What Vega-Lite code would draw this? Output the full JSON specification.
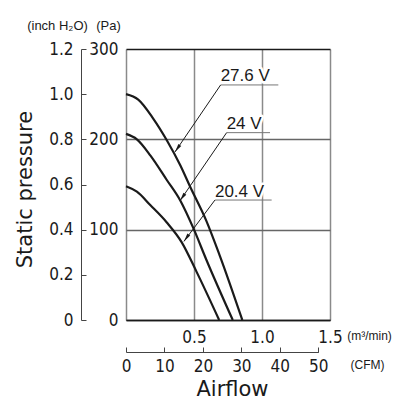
{
  "$schema": "https://vega.github.io/schema/vega-lite/v6.json",
  "width": 204,
  "height": 271,
  "autosize": {"type": "none"},
  "padding": {"left": 126, "top": 49, "right": 87, "bottom": 92},
  "background": "white",
  "config": {
    "view": {"stroke": null},
    "axis": {
      "labelFont": "Liberation Sans Narrow, DejaVu Sans Condensed, sans-serif",
      "labelFontSize": 17,
      "labelColor": "#1a1a1a",
      "labelFlush": false,
      "labelOverlap": false,
      "titleFont": "Liberation Sans, Arial, sans-serif",
      "titleFontWeight": "normal",
      "titleColor": "#1a1a1a"
    }
  },
  "datasets": {
    "curves": [
      {"voltage": "27.6 V", "airflow": 0, "pressure": 250},
      {"voltage": "27.6 V", "airflow": 0.09, "pressure": 244},
      {"voltage": "27.6 V", "airflow": 0.2, "pressure": 223},
      {"voltage": "27.6 V", "airflow": 0.3, "pressure": 199},
      {"voltage": "27.6 V", "airflow": 0.4, "pressure": 171},
      {"voltage": "27.6 V", "airflow": 0.47, "pressure": 148},
      {"voltage": "27.6 V", "airflow": 0.59, "pressure": 110},
      {"voltage": "27.6 V", "airflow": 0.69, "pressure": 71},
      {"voltage": "27.6 V", "airflow": 0.855, "pressure": 0},
      {"voltage": "24 V", "airflow": 0, "pressure": 206},
      {"voltage": "24 V", "airflow": 0.08, "pressure": 200},
      {"voltage": "24 V", "airflow": 0.18, "pressure": 182},
      {"voltage": "24 V", "airflow": 0.3, "pressure": 155},
      {"voltage": "24 V", "airflow": 0.4, "pressure": 132},
      {"voltage": "24 V", "airflow": 0.5, "pressure": 100},
      {"voltage": "24 V", "airflow": 0.59, "pressure": 67},
      {"voltage": "24 V", "airflow": 0.785, "pressure": 0},
      {"voltage": "20.4 V", "airflow": 0, "pressure": 148},
      {"voltage": "20.4 V", "airflow": 0.08, "pressure": 142},
      {"voltage": "20.4 V", "airflow": 0.18, "pressure": 127},
      {"voltage": "20.4 V", "airflow": 0.3, "pressure": 108},
      {"voltage": "20.4 V", "airflow": 0.41, "pressure": 86},
      {"voltage": "20.4 V", "airflow": 0.52, "pressure": 53},
      {"voltage": "20.4 V", "airflow": 0.685, "pressure": 0}
    ],
    "labels": [
      {"label": "27.6 V", "lx": 0.696, "ly": 260.2, "lx2": 1.12, "tipx": 0.36, "tipy": 186},
      {"label": "24 V", "lx": 0.74, "ly": 207.4, "lx2": 1.059, "tipx": 0.397, "tipy": 132},
      {"label": "20.4 V", "lx": 0.654, "ly": 132.8, "lx2": 1.071, "tipx": 0.426, "tipy": 87}
    ],
    "frame": [
      {"cfm": 0, "inch": 0, "airflow": 0, "pressure": 0},
      {"cfm": 50, "inch": 1.2, "airflow": 1.5, "pressure": 300}
    ]
  },
  "layer": [
    {
      "data": {"name": "frame"},
      "mark": {"type": "point", "opacity": 0},
      "encoding": {
        "x": {
          "field": "airflow", "type": "quantitative",
          "scale": {"domain": [0, 1.5], "nice": false, "zero": false},
          "axis": {
            "orient": "bottom", "offset": 0,
            "values": [0, 0.5, 1, 1.5],
            "labelExpr": "datum.value == 0 ? '' : format(datum.value, '.1f')",
            "domain": true, "domainColor": "#1a1a1a", "domainWidth": 1.5,
            "ticks": false, "labelPadding": 9,
            "grid": true, "gridColor": "#8a8a8a", "gridWidth": 1.5, "gridOpacity": 1,
            "title": "(m³/min)", "titleFontSize": 12, "titleAngle": 0,
            "titleX": 243, "titleY": 15, "titleAlign": "center", "titleBaseline": "middle"
          }
        },
        "y": {
          "field": "pressure", "type": "quantitative",
          "scale": {"domain": [0, 300], "nice": false, "zero": false},
          "axis": {
            "orient": "left", "offset": 0,
            "values": [0, 100, 200, 300],
            "domain": false, "ticks": false, "labelPadding": 8,
            "grid": true,
            "gridColor": {"condition": {"test": "datum.value == 300 || datum.value == 0", "value": "#1a1a1a"}, "value": "#666666"},
            "gridWidth": 1.5, "gridOpacity": 1,
            "title": "(Pa)", "titleFontSize": 13, "titleAngle": 0,
            "titleX": -18, "titleY": -24, "titleAlign": "center", "titleBaseline": "middle"
          }
        }
      }
    },
    {
      "layer": [
        {
          "data": {"name": "curves"},
          "mark": {"type": "line", "interpolate": "monotone", "color": "#1a1a1a", "strokeWidth": 2.2},
          "encoding": {
            "x": {"field": "airflow", "type": "quantitative", "scale": {"domain": [0, 1.5], "nice": false, "zero": false}, "axis": null},
            "y": {"field": "pressure", "type": "quantitative", "scale": {"domain": [0, 300], "nice": false, "zero": false}, "axis": null},
            "detail": {"field": "voltage"}
          }
        },
        {
          "data": {"name": "labels"},
          "mark": {"type": "text", "align": "left", "baseline": "alphabetic", "dy": -3.5, "fontSize": 17,
                   "font": "Liberation Sans, Arial, sans-serif", "stroke": "white", "strokeWidth": 5, "strokeJoin": "round", "fill": "white"},
          "encoding": {
            "x": {"field": "lx", "type": "quantitative", "axis": null},
            "y": {"field": "ly", "type": "quantitative", "axis": null},
            "text": {"field": "label"}
          }
        },
        {
          "data": {"name": "labels"},
          "mark": {"type": "rule", "color": "#777777", "strokeWidth": 1},
          "encoding": {
            "x": {"field": "lx", "type": "quantitative", "axis": null},
            "x2": {"field": "lx2"},
            "y": {"field": "ly", "type": "quantitative", "axis": null}
          }
        },
        {
          "data": {"name": "labels"},
          "mark": {"type": "text", "align": "left", "baseline": "alphabetic", "dy": -3.5, "fontSize": 17,
                   "font": "Liberation Sans, Arial, sans-serif", "fill": "#1a1a1a"},
          "encoding": {
            "x": {"field": "lx", "type": "quantitative", "axis": null},
            "y": {"field": "ly", "type": "quantitative", "axis": null},
            "text": {"field": "label"}
          }
        },
        {
          "data": {"name": "labels"},
          "mark": {"type": "rule", "color": "#1a1a1a", "strokeWidth": 1},
          "encoding": {
            "x": {"field": "lx", "type": "quantitative", "axis": null},
            "y": {"field": "ly", "type": "quantitative", "axis": null},
            "x2": {"field": "tipx"},
            "y2": {"field": "tipy"}
          }
        },
        {
          "data": {"name": "labels"},
          "mark": {"type": "point", "shape": "M0,0L-0.35,1.7L0.35,1.7Z", "angle": 215, "size": 100,
                   "filled": true, "color": "#1a1a1a", "opacity": 1},
          "encoding": {
            "x": {"field": "tipx", "type": "quantitative", "axis": null},
            "y": {"field": "tipy", "type": "quantitative", "axis": null}
          }
        }
      ]
    },
    {
      "data": {"name": "frame"},
      "mark": {"type": "point", "opacity": 0},
      "encoding": {
        "x": {
          "field": "cfm", "type": "quantitative",
          "scale": {"domain": [0, 50], "range": [0, 192.3], "nice": false, "zero": false},
          "axis": {
            "orient": "bottom", "offset": 32,
            "values": [0, 10, 20, 30, 40, 50],
            "domain": true, "domainColor": "#444444", "domainWidth": 1,
            "ticks": true, "tickSize": -5, "tickColor": "#444444", "tickWidth": 1,
            "labelPadding": 11, "grid": false,
            "title": "(CFM)", "titleFontSize": 12, "titleAngle": 0,
            "titleX": 241, "titleY": 12, "titleAlign": "center", "titleBaseline": "middle"
          }
        },
        "y": {
          "field": "inch", "type": "quantitative",
          "scale": {"domain": [0, 1.2], "nice": false, "zero": false},
          "axis": {
            "orient": "left", "offset": 45,
            "values": [0, 0.2, 0.4, 0.6, 0.8, 1.0, 1.2],
            "labelExpr": "datum.value == 0 ? '0' : format(datum.value, '.1f')",
            "domain": true, "domainColor": "#444444", "domainWidth": 1,
            "ticks": true, "tickSize": -5, "tickColor": "#444444", "tickWidth": 1,
            "labelPadding": 13, "grid": false,
            "title": "(inch H₂O)", "titleFontSize": 13, "titleAngle": 0,
            "titleX": -24, "titleY": -24, "titleAlign": "center", "titleBaseline": "middle"
          }
        }
      }
    },
    {
      "data": {"name": "frame"},
      "mark": {"type": "point", "opacity": 0},
      "encoding": {
        "x": {
          "field": "cfm", "type": "quantitative",
          "scale": {"domain": [0, 50], "range": [0, 192.3], "nice": false, "zero": false},
          "axis": {
            "orient": "bottom", "offset": 0,
            "domain": false, "ticks": false, "labels": false, "grid": false,
            "title": "Airflow", "titleFont": "DejaVu Sans, sans-serif", "titleFontSize": 21, "titleAngle": 0,
            "titleX": 106, "titleY": 69, "titleAlign": "center", "titleBaseline": "middle"
          }
        },
        "y": {
          "field": "inch", "type": "quantitative",
          "scale": {"domain": [0, 1.2], "nice": false, "zero": false},
          "axis": {
            "orient": "left", "offset": 0,
            "domain": false, "ticks": false, "labels": false, "grid": false,
            "title": "Static pressure", "titleFont": "DejaVu Sans, sans-serif", "titleFontSize": 21, "titleAngle": -90,
            "titleX": -101, "titleY": 140, "titleAlign": "center", "titleBaseline": "middle"
          }
        }
      }
    }
  ],
  "resolve": {"scale": {"x": "independent", "y": "independent"}}
}
